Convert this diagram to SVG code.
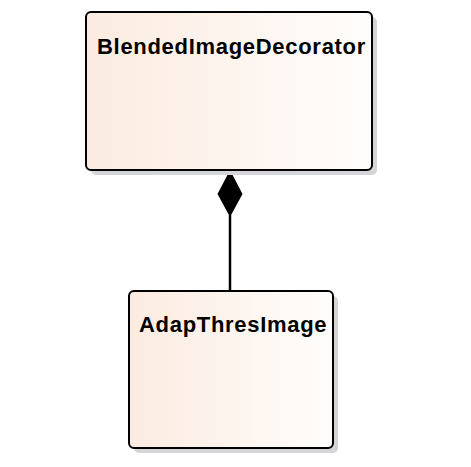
<svg xmlns="http://www.w3.org/2000/svg" width="471" height="467" viewBox="0 0 471 467">
<style>
.shadow{fill:#d4d4d9;}
.box{fill:url(#g);stroke:#000;stroke-width:2;}
.label{font-family:"Liberation Sans",Arial,sans-serif;font-weight:bold;font-size:22px;letter-spacing:0.7px;fill:#000;}
.conn{stroke:#000;stroke-width:2.5;fill:none;}
</style>
<defs>
<linearGradient id="g" x1="0" y1="0" x2="1" y2="0">
<stop offset="0" stop-color="#fbebe0"/>
<stop offset="1" stop-color="#fffdfc"/>
</linearGradient>
</defs>
<rect x="0" y="0" width="471" height="467" fill="#fff"/>
<g id="connectors">
<line class="conn" x1="230" y1="215" x2="230" y2="291"/>
<polygon points="230,170 242.5,194 230,217 217.5,194" fill="#000"/>
</g>
<g id="BlendedImageDecorator">
<rect class="shadow" x="91" y="17" width="286" height="158" rx="5"/>
<rect class="box" x="86" y="12" width="286" height="158" rx="5"/>
<text class="label" x="97" y="54">BlendedImageDecorator</text>
</g>
<g id="AdapThresImage">
<rect class="shadow" x="134" y="296" width="204" height="157" rx="5"/>
<rect class="box" x="129" y="291" width="204" height="157" rx="5"/>
<text class="label" x="139" y="332">AdapThresImage</text>
</g>
</svg>
